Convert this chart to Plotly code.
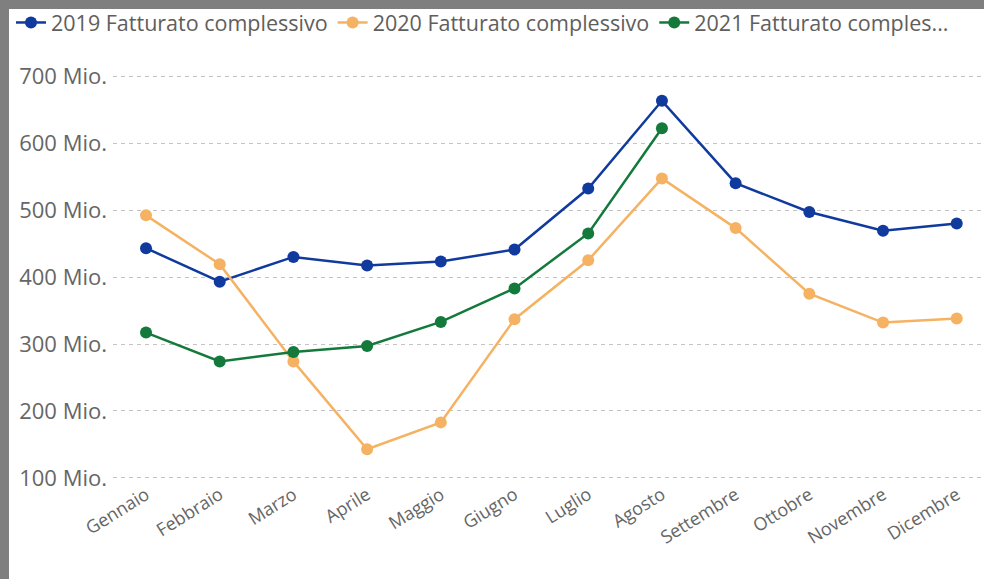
import plotly.graph_objects as go

months = ["Gennaio", "Febbraio", "Marzo", "Aprile", "Maggio", "Giugno",
          "Luglio", "Agosto", "Settembre", "Ottobre", "Novembre", "Dicembre"]

names = ["2019 Fatturato complessivo", "2020 Fatturato complessivo", "2021 Fatturato comples..."]

fatturato_2019 = [443, 393, 430, 417, 423, 441, 532, 663, 540, 497, 469, 480]
fatturato_2020 = [492, 419, 274, 143, 183, 337, 425, 547, 473, 375, 332, 338]
fatturato_2021 = [317, 274, 288, 297, 333, 383, 465, 622, None, None, None, None]

tick_vals = [100, 200, 300, 400, 500, 600, 700]
tick_text = ["100 Mio.", "200 Mio.", "300 Mio.", "400 Mio.", "500 Mio.", "600 Mio.", "700 Mio."]

colors = ["#103A9E", "#F5B262", "#137A3C"]

W, H = 984, 579
L, R, T, B = 113, 0, 74, 99

fig = go.Figure()
for name, vals, col in zip(names, [fatturato_2019, fatturato_2020, fatturato_2021], colors):
    fig.add_trace(go.Scatter(
        x=months, y=vals, name=name, mode="lines+markers",
        line=dict(color=col, width=2.5),
        marker=dict(color=col, size=12),
        connectgaps=False,
    ))

pw = W - L - R
ph = H - T - B

def px_x(p):
    return (p - L) / pw

def px_y(p):
    return (H - B - p) / ph

# white card inside a grey frame (frame visible at top and left)
shapes = [
    dict(type="rect", xref="paper", yref="paper",
         x0=px_x(9), x1=px_x(W + 10), y0=px_y(H + 10), y1=px_y(9),
         fillcolor="white", line=dict(width=0), layer="below"),
]

fig.update_layout(
    width=W, height=H,
    margin=dict(l=L, r=R, t=T, b=B),
    paper_bgcolor="#7F7F7F", plot_bgcolor="white",
    font=dict(family="Open Sans, Liberation Sans, Arial, sans-serif", color="#666666"),
    showlegend=True,
    legend=dict(orientation="h", xref="paper", yref="paper",
                x=px_x(11), y=px_y(2), xanchor="left", yanchor="top",
                font=dict(size=21.5, color="#605E5C"), itemwidth=30,
                bgcolor="rgba(0,0,0,0)"),
    shapes=shapes,
    xaxis=dict(range=[-0.448, 11.37], showgrid=False, zeroline=False,
               showline=False, ticks="", tickangle=-32,
               tickfont=dict(size=18, color="#666666")),
    yaxis=dict(range=[97, 703], tickvals=tick_vals, ticktext=tick_text,
               showgrid=True, gridcolor="#C4C4C4", griddash="4px,4px", gridwidth=1,
               zeroline=False, showline=False, ticks="",
               tickfont=dict(size=22, color="#666666"), ticklabelstandoff=5),
)

fig.write_html("out.html", config={"displayModeBar": False},
               post_script="document.body.style.margin='0';")
